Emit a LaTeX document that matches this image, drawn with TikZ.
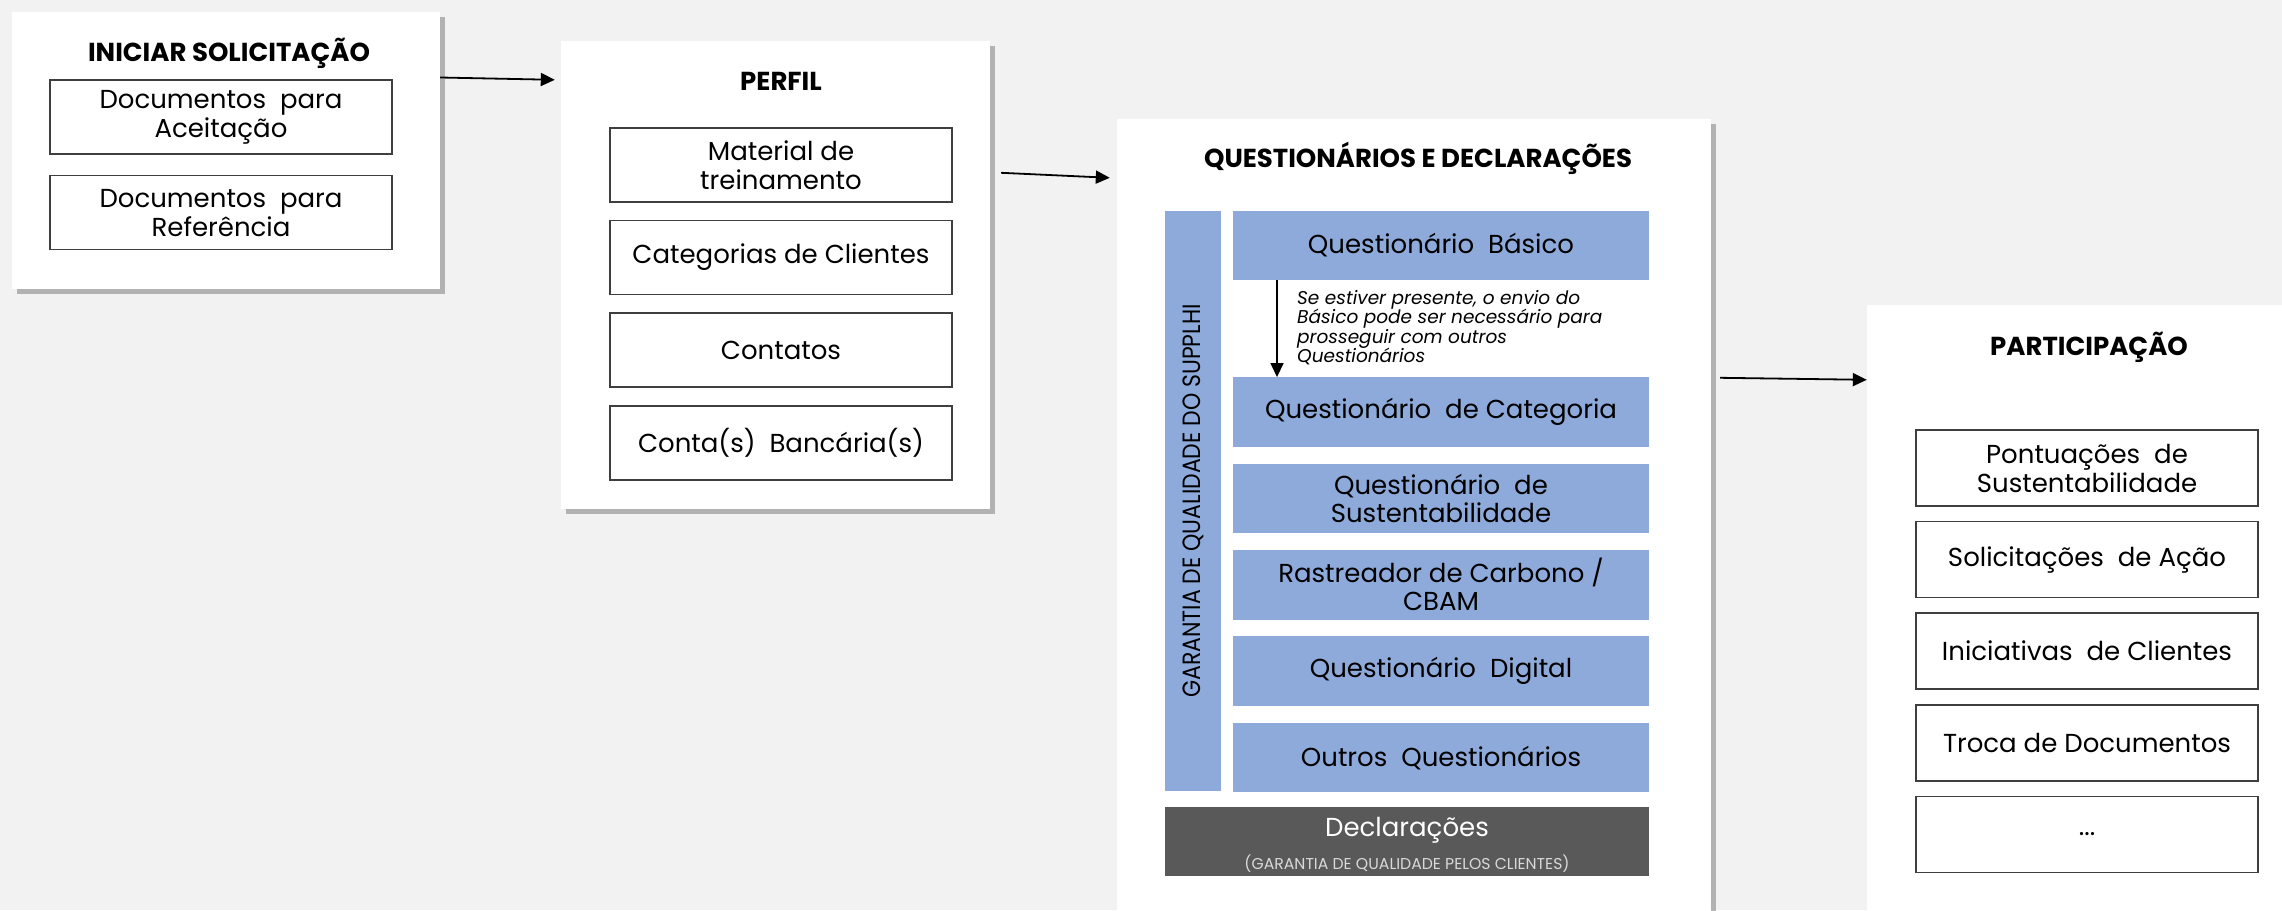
\documentclass[tikz,border=0pt]{standalone}
\usepackage{fontspec}
\setmainfont{Poppins}
\usetikzlibrary{arrows.meta}
\usetikzlibrary{shadows}
\usetikzlibrary{positioning}

\definecolor{bgfill}{HTML}{F2F2F2}
\definecolor{qblue}{HTML}{8EAADB}
\definecolor{declgray}{HTML}{595959}
\definecolor{boxline}{HTML}{3F3F3F}

\begin{document}
\begin{tikzpicture}[x=1pt,y=-1pt]
\tikzset{panel/.style={fill=white,inner sep=0,drop shadow={shadow xshift=5pt,shadow yshift=-5pt,opacity=0.5,fill=black!55}},
  head/.style={anchor=base,inner sep=0,font=\bfseries\fontsize{26}{30}\selectfont},
  item/.style={draw=boxline,line width=1.6pt,fill=white,minimum width=342pt,minimum height=74pt,inner sep=0,align=center,font=\fontsize{26}{29}\selectfont},
  qitem/.style={fill=qblue,minimum width=416pt,minimum height=69.5pt,inner sep=0,align=center,font=\fontsize{26}{28}\selectfont},
  link/.style={-{Triangle[length=14pt,width=13pt]},line width=1.8pt}}

% background and page
\fill[bgfill] (0,0) rectangle (2282,910);
\useasboundingbox (0,0) rectangle (2282,910);

% the four panels
\node[panel,minimum width=428.5pt,minimum height=277.3pt] (start) at (225.75,150.35) {};
\node[panel,minimum width=429pt,minimum height=468pt] (profile) at (775.5,275) {};
\node[panel,minimum width=594pt,minimum height=841pt] (quest) at (1414,539.5) {};
\node[panel,minimum width=460pt,minimum height=655pt] (partic) at (2097,632.5) {};

\draw[link] ([yshift=-66pt]start.north east) -- ([xshift=-6pt,yshift=-39pt]profile.north west);
\draw[link] ([xshift=11pt,yshift=-132pt]profile.north east) -- ([xshift=-7pt,yshift=-59pt]quest.north west);
\draw[link] ([xshift=9pt,yshift=-259pt]quest.north east) -- ([yshift=-75pt]partic.north west);

% iniciar
\node[head] (starttitle) at (229,61) {INICIAR SOLICITAÇÃO};
\node[item] (accept) at (221,117) {Documentos~ para\\Aceitação};
\node[item,below=20pt of accept] (refer) {Documentos~ para\\Referência};

% perfil
\node[head] (profiletitle) at (781,90) {PERFIL};
\node[item] (training) at (781,165) {Material de\\treinamento};
\node[item,below=17pt of training] (clientcat) {Categorias de Clientes};
\node[item,below=17pt of clientcat] (contacts) {Contatos};
\node[item,below=17pt of contacts] (bank) {Conta(s)~ Bancária(s)};

% questionarios
\node[head] (questtitle) at (1418,167) {QUESTIONÁRIOS E DECLARAÇÕES};
\node[fill=qblue,rotate=90,minimum width=580pt,minimum height=56pt,inner sep=0,font=\fontsize{25}{27}\selectfont] (qabar) at (1193,501) {\scalebox{0.88}[1]{GARANTIA DE QUALIDADE DO SUPPLHI}};
\node[qitem] (basic) at (1441,245.5) {Questionário~ Básico};
\node[qitem] (category) at (1441,412) {Questionário~ de Categoria};
\node[qitem,below=16.5pt of category] (sustain) {Questionário~ de\\Sustentabilidade};
\node[qitem,below=16.5pt of sustain] (carbon) {Rastreador de Carbono /\\CBAM};
\node[qitem,below=16.5pt of carbon] (digital) {Questionário~ Digital};
\node[qitem,below=16.5pt of digital] (others) {Outros~ Questionários};
\draw[link,line width=1.5pt] ([xshift=-164pt]basic.south) -- ([xshift=-164pt]category.north);
\node[anchor=north west,align=left,inner sep=0,font=\itshape\fontsize{18.5}{19.5}\selectfont] (note) at (1297,290) {Se estiver presente, o envio do\\Básico pode ser necessário para\\prosseguir com outros\\Questionários};
\node[fill=declgray,minimum width=484pt,minimum height=69pt,inner sep=0] (decl) at (1407,841.5) {};
\node[anchor=base,text=white,font=\fontsize{26}{28}\selectfont] (decltitle) at (1407,836) {Declarações};
\node[anchor=base,text=white!85!black,font=\fontsize{15.7}{17}\selectfont] (declsub) at (1407,869) {(GARANTIA DE QUALIDADE PELOS CLIENTES)};

% participacao
\node[head] (partictitle) at (2089,355) {PARTICIPAÇÃO};
\node[item,minimum height=76pt] (scores) at (2087,468) {Pontuações~ de\\Sustentabilidade};
\node[item,minimum height=76pt,below=14pt of scores] (actions) {Solicitações~ de Ação};
\node[item,minimum height=76pt,below=14pt of actions] (initiatives) {Iniciativas~ de Clientes};
\node[item,minimum height=76pt,below=14pt of initiatives] (exchange) {Troca de Documentos};
\node[item,minimum height=76pt,below=14pt of exchange] (more) {...};

\end{tikzpicture}
\end{document}
